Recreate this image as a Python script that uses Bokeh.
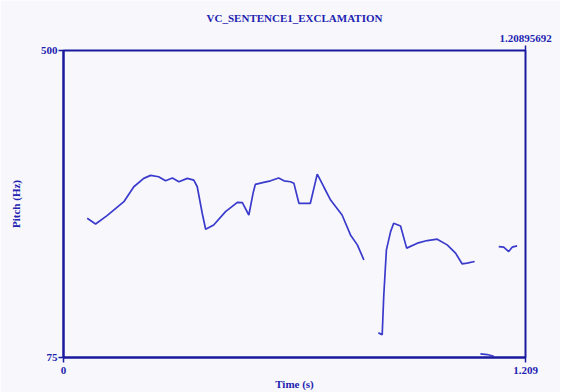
from bokeh.plotting import figure
from bokeh.models import LinearAxis, FixedTicker, Title
from bokeh.embed import file_html
from bokeh.resources import INLINE

# Pitch contour segments (time in s, pitch in Hz)
seg1_t = [0.062, 0.084, 0.114, 0.158, 0.184, 0.210, 0.228, 0.249, 0.267, 0.285, 0.302, 0.324, 0.341, 0.350,
          0.363, 0.372, 0.393, 0.424, 0.455, 0.468, 0.485, 0.496, 0.502, 0.524, 0.542, 0.563, 0.577, 0.594,
          0.603, 0.616, 0.646, 0.664, 0.681, 0.699, 0.729, 0.751, 0.769, 0.786]
seg1_f = [267.8, 259.9, 271.4, 290.7, 311.4, 323.0, 327.1, 325.2, 319.6, 323.4, 318.3, 323.0, 320.6, 311.4,
          274.7, 252.6, 258.5, 276.9, 289.8, 289.3, 272.3, 302.3, 314.7, 317.4, 319.6, 323.4, 319.6, 318.3,
          316.1, 288.5, 288.5, 328.9, 311.4, 293.0, 272.3, 244.7, 230.9, 210.2]
seg2_t = [0.824, 0.834, 0.838, 0.845, 0.856, 0.864, 0.882, 0.898, 0.926, 0.952, 0.978, 1.004, 1.026, 1.043,
          1.056, 1.076]
seg2_f = [109.1, 106.7, 159.6, 224.0, 249.3, 260.9, 257.1, 226.4, 233.3, 236.9, 238.8, 230.9, 219.5, 204.7,
          205.7, 207.9]
seg3_t = [1.139, 1.152, 1.165, 1.174, 1.187]
seg3_f = [228.6, 227.7, 221.7, 227.7, 229.5]
seg4_t = [1.091, 1.109, 1.126]
seg4_f = [80.1, 79.1, 76.8]

x_ticks = [0, 1.209]
x_tick_labels = ["0", "1.209"]
y_ticks = [75, 500]
y_tick_labels = ["75", "500"]
top_tick = [1.209]
top_tick_label = ["1.20895692"]
title_text = "VC_SENTENCE1_EXCLAMATION"
x_label = "Time (s)"
y_label = "Pitch (Hz)"

BG = "#f8f8fc"
FRAME = "#1a1a9e"
TEXT = "#2222b0"
CURVE = "#3a3acc"
FONT = "Liberation Serif"

p = figure(width=560, height=392, x_range=(0, 1.209), y_range=(75, 500),
           output_backend="svg", toolbar_location=None, x_axis_location=None, y_axis_location=None,
           min_border_left=63, min_border_right=35, min_border_top=50, min_border_bottom=34)
p.background_fill_color = BG
p.border_fill_color = BG
p.outline_line_color = FRAME
p.outline_line_width = 2
p.grid.visible = False


def style_axis(ax):
    ax.axis_line_color = FRAME
    ax.axis_line_width = 2
    ax.major_tick_line_color = FRAME
    ax.major_tick_line_width = 1.5
    ax.major_tick_out = 5
    ax.major_tick_in = 0
    ax.minor_tick_line_color = None
    ax.major_label_text_font = FONT
    ax.major_label_text_font_style = "bold"
    ax.major_label_text_font_size = "11px"
    ax.major_label_text_color = TEXT
    ax.axis_label_text_font = FONT
    ax.axis_label_text_font_style = "bold"
    ax.axis_label_text_font_size = "11px"
    ax.axis_label_text_color = TEXT


top = LinearAxis(ticker=FixedTicker(ticks=top_tick),
                 major_label_overrides={top_tick[0]: top_tick_label[0]})
style_axis(top)
top.axis_line_color = None
top.major_label_standoff = 4
p.add_layout(top, "above")

t = Title(text=title_text, align="center", text_font=FONT, text_font_style="bold",
          text_font_size="11px", text_color=TEXT, offset=0, standoff=15)
p.add_layout(t, "above")

left = LinearAxis(ticker=FixedTicker(ticks=y_ticks), axis_label=y_label,
                  major_label_overrides={k: v for k, v in zip(y_ticks, y_tick_labels)})
style_axis(left)
left.major_label_standoff = 1
left.axis_label_standoff = 16
p.add_layout(left, "left")

bottom = LinearAxis(ticker=FixedTicker(ticks=x_ticks), axis_label=x_label,
                    major_label_overrides={k: v for k, v in zip(x_ticks, x_tick_labels)})
style_axis(bottom)
bottom.major_label_standoff = 4
bottom.axis_label_standoff = 1
p.add_layout(bottom, "below")

p.multi_line(xs=[seg1_t, seg2_t, seg3_t, seg4_t], ys=[seg1_f, seg2_f, seg3_f, seg4_f],
             line_color=CURVE, line_width=1.7)

open("out.html", "w").write(file_html(p, INLINE))
